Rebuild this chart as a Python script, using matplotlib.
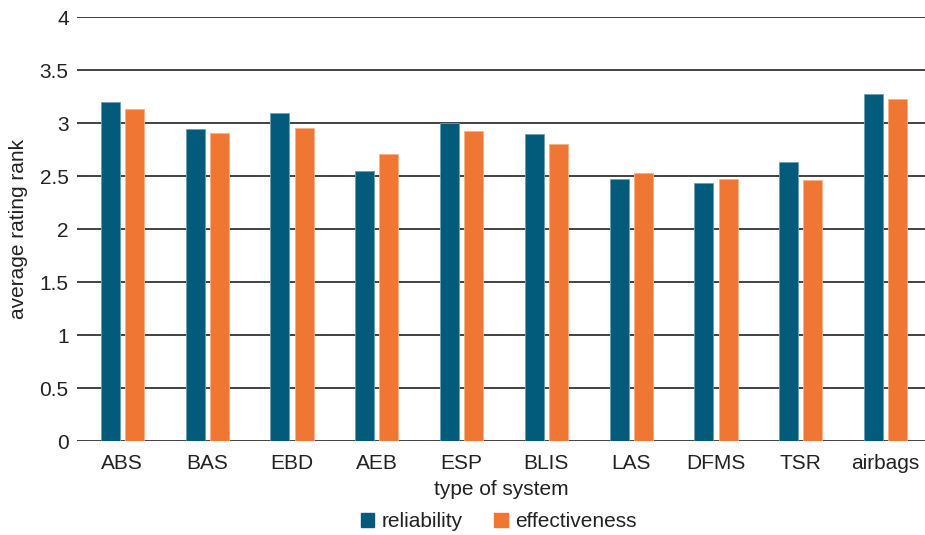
import numpy as np
import matplotlib.pyplot as plt
from matplotlib.patches import Patch

plt.rcParams['font.family'] = ['Liberation Sans', 'DejaVu Sans']

# -------------------------
# Data
# -------------------------
systems = ['ABS', 'BAS', 'EBD', 'AEB', 'ESP', 'BLIS', 'LAS', 'DFMS', 'TSR', 'airbags']
reliability = [3.20, 2.95, 3.10, 2.55, 3.00, 2.90, 2.48, 2.44, 2.64, 3.28]
effectiveness = [3.14, 2.91, 2.96, 2.71, 2.93, 2.81, 2.53, 2.48, 2.47, 3.23]

blue = '#035b7c'
orange = '#f07733'
txt = '#222222'
fs = 15

# -------------------------
# Grouped bars
# -------------------------
fig = plt.figure(figsize=(9.25, 5.35), dpi=100)
ax = fig.add_axes([77 / 925, 0.175, 848 / 925, 0.7925])

x = np.arange(len(systems))
w = 0.225
off = 0.143

ax.bar(x - off, reliability, w, color=blue, edgecolor='#6f9db3', linewidth=0.6, zorder=3)
ax.bar(x + off, effectiveness, w, color=orange, edgecolor='#f7b08a', linewidth=0.6, zorder=3)

ax.set_xlim(-0.535, len(systems) - 0.535)
ax.set_ylim(0, 4)
ax.set_yticks(np.arange(0, 4.01, 0.5))
ax.set_yticklabels(['0', '0.5', '1', '1.5', '2', '2.5', '3', '3.5', '4'])
ax.set_xticks(x)
ax.set_xticklabels(systems)

ax.yaxis.grid(True, color='#333333', linewidth=1.3, zorder=0)
for s in ax.spines.values():
    s.set_visible(False)

ax.tick_params(axis='y', length=0, labelsize=fs, labelcolor=txt, pad=6)
ax.tick_params(axis='x', length=0, labelsize=fs, labelcolor=txt, pad=9)

ax.set_ylabel('average rating rank', fontsize=fs, color=txt, labelpad=8)
ax.set_xlabel('type of system', fontsize=fs, color=txt, labelpad=5)

handles = [Patch(color=blue, label='reliability'), Patch(color=orange, label='effectiveness')]
fig.legend(handles=handles, loc='center', bbox_to_anchor=(0.539, 0.025), ncol=2,
           frameon=False, fontsize=fs, handlelength=0.65, handleheight=0.65,
           handletextpad=0.35, columnspacing=1.5, labelcolor=txt,
           borderpad=0, borderaxespad=0)

fig.savefig('out.png', dpi=100)
